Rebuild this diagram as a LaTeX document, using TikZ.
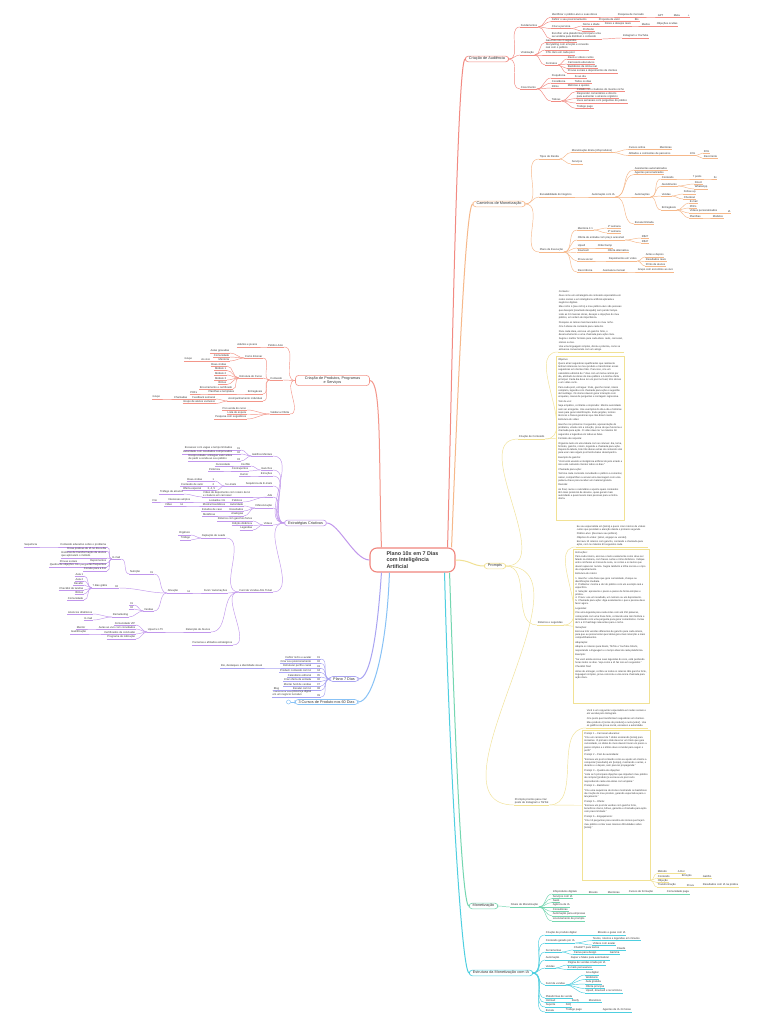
\documentclass[tikz,border=0pt]{standalone}
\usepackage{fontspec}
\setmainfont{Liberation Sans}
\usetikzlibrary{positioning}
\definecolor{hubC}{HTML}{F0857D}
\definecolor{redC}{HTML}{F28A82}
\definecolor{orgC}{HTML}{F6B88A}
\definecolor{ylwC}{HTML}{F1E194}
\definecolor{grnC}{HTML}{74D6B0}
\definecolor{cyaC}{HTML}{4ECFE0}
\definecolor{lorC}{HTML}{F3968A}
\definecolor{purC}{HTML}{C197EC}
\definecolor{lavC}{HTML}{A9A4F2}
\definecolor{bluC}{HTML}{88C2F6}
\definecolor{txtC}{HTML}{3A3A3A}
\newcommand\hubfont{\fontsize{5.4}{6.4}\selectfont\bfseries}
\newcommand\topfont{\fontsize{3.8}{4.4}\selectfont}
\newcommand\leaffont{\fontsize{2.7}{3.05}\selectfont}
\newcommand\notefont{\fontsize{2.5}{3.2}\selectfont}
\newcommand\pgap{\par\vspace{1.3pt}}

\begin{document}
\begin{tikzpicture}[x=1pt, y=-1pt,
    hub/.style={draw=hubC, line width=1.1pt, rounded corners=7pt, fill=white,
        font=\hubfont, text=txtC, align=left, minimum width=85pt,
        minimum height=24pt, inner xsep=6pt},
    topic/.style={draw=br, line width=0.6pt, rounded corners=3pt, fill=white,
        font=\topfont, text=txtC, align=center, inner xsep=3.5pt, inner ysep=1.1pt},
    leaf/.style={anchor=south west, font=\leaffont, text=txtC, align=left,
        inner xsep=0.6pt, inner ysep=0.45pt,
        append after command={(\tikzlastnode.south west) edge[draw=br, line width=0.45pt] (\tikzlastnode.south east)}},
    lleaf/.style={leaf, anchor=south east},
    notebox/.style={draw=br, line width=0.5pt, anchor=north west, fill=white,
        font=\notefont, text=txtC, inner sep=2pt},
    link/.style={draw=br, line width=0.45pt},
    branch/.style={line width=1pt},
]
    \fill[white] (0,0) rectangle (768,1024);
    \useasboundingbox (0,0) rectangle (768,1024);

    % Central topic
    \node[hub] (hub) at (412.5,560) {Plano 10x em 7 Dias\\com Inteligência\\Artificial};

    % ---------------- Criação de Audiência
    \begin{scope}
        \colorlet{br}{redC}
        \node[topic] (rA) at (487,59) {Criação de Audiência};
        \node[leaf] (rB1) at (520,27) {Fundamentos};
        \node[leaf] (rB2) at (520,55) {Viralização};
        \node[leaf] (rB3) at (520,89) {Crescimento};
        \node[leaf] (r11) at (551,17) {Identificar o público-alvo e suas dores};
        \node[leaf] (r111) at (617,17) {Pesquisa de mercado};
        \node[leaf] (r112) at (657,17) {GPT};
        \node[leaf] (r113) at (673,17) {Meta};
        \node[leaf] (r114) at (687,17) {+};
        \node[leaf] (r12) at (551,21.5) {Definir o seu posicionamento};
        \node[leaf] (r121) at (598,21.5) {Proposta de valor};
        \node[leaf] (r122) at (634,21.5) {Bio};
        \node[leaf] (r13) at (551,28.5) {Criar a persona};
        \node[leaf] (r131) at (582,26) {Nome e idade};
        \node[leaf] (r132) at (604,26) {Dores e desejos reais};
        \node[leaf] (r133) at (641,26) {Medos};
        \node[leaf] (r134) at (656,26) {Objeções ocultas};
        \node[leaf] (r135) at (582,31) {Profissão};
        \node[leaf] (r14) at (551,39) {Escolher uma plataforma principal e uma\\secundária para distribuir o conteúdo};
        \node[leaf] (r141) at (622,38) {Instagram e YouTube};
        \node[leaf] (r21) at (545,42.5) {Ganchos nos 3 segundos};
        \node[leaf] (r22) at (545,50) {Storytelling com emoção e conexão\\real com o público};
        \node[leaf] (r23) at (545,55) {CTA claro em cada post};
        \node[leaf] (r24) at (545,65) {Formatos};
        \node[leaf] (r241) at (567,59) {Reels e vídeos curtos};
        \node[leaf] (r242) at (567,64) {Carrosséis educativos};
        \node[leaf] (r243) at (567,68.5) {Bastidores da rotina real};
        \node[leaf] (r244) at (567,73) {Provas sociais e depoimentos de clientes};
        \node[leaf] (r31) at (551,78) {Frequência};
        \node[leaf] (r311) at (574,78) {3x ao dia};
        \node[leaf] (r32) at (551,83) {Constância};
        \node[leaf] (r321) at (574,83) {Todos os dias};
        \node[leaf] (r33) at (551,88) {Ritmo};
        \node[leaf] (r331) at (567,88) {Métricas e ajustes};
        \node[leaf] (r34) at (551,101) {Táticas};
        \node[leaf] (r341) at (576,91.5) {Collabs com criadores do mesmo nicho};
        \node[leaf] (r342) at (576,98.5) {Responder comentários e directs\\para aumentar o alcance orgânico};
        \node[leaf] (r343) at (576,103) {Lives semanais com perguntas do público};
        \node[leaf] (r344) at (576,108.5) {Tráfego pago};
        \foreach \b in {rB1,rB2,rB3}
            \draw[link] (rA.east) to[out=0,in=180] (\b.south west);
        \foreach \a/\b in {rB1/r11, rB1/r12, rB1/r13, rB1/r14, r11/r111, r111/r112,
                r112/r113, r113/r114, r12/r121, r121/r122, r13/r131, r131/r132,
                r132/r133, r133/r134, r13/r135, r14/r141, rB2/r21, rB2/r22, rB2/r23,
                rB2/r24, r24/r241, r24/r242, r24/r243, r24/r244, rB3/r31, rB3/r32,
                rB3/r33, rB3/r34, r31/r311, r32/r321, r33/r331, r34/r341, r34/r342,
                r34/r343, r34/r344}
            \draw[link] (\a.south east) to[out=0,in=180] (\b.south west);
        \draw[branch, draw=br] ([xshift=-8pt]hub.north east) .. controls +(4,-150) and +(-8,0) .. (rA.west);
    \end{scope}

    % ---------------- Caminhos de Monetização
    \begin{scope}
        \colorlet{br}{orgC}
        \node[topic] (oA) at (499,204) {Caminhos de Monetização};
        \node[leaf] (oB1) at (539,159) {Tipos de Renda};
        \node[leaf] (oB2) at (539,197) {Escalabilidade do Negócio};
        \node[leaf] (oB3) at (539,252) {Plano de Execução};
        \node[leaf] (o11) at (571,152.5) {Monetização direta (infoprodutos)};
        \node[leaf] (o111) at (628,149.5) {Cursos online};
        \node[leaf] (o112) at (659,149.5) {Mentorias};
        \node[leaf] (o113) at (628,155.5) {Afiliados e comissões de parceiros};
        \node[leaf] (o114) at (689,155.5) {10\%};
        \node[leaf] (o115) at (703,153) {30\%};
        \node[leaf] (o116) at (703,158.5) {Recorrente};
        \node[leaf] (o12) at (571,164) {Serviços};
        \node[leaf] (o21) at (591,197) {Automação com IA};
        \node[leaf] (o211) at (634,170) {Assistentes automatizados};
        \node[leaf] (o212) at (634,174.5) {Agentes personalizados};
        \node[leaf] (o213) at (634,197) {Automações};
        \node[leaf] (o214) at (634,224) {Escala ilimitada};
        \node[leaf] (o2131) at (661,179) {Conteúdo};
        \node[leaf] (o2132) at (692,179) {7 posts};
        \node[leaf] (o2133) at (713,179) {3x};
        \node[leaf] (o2134) at (661,186) {Atendimento};
        \node[leaf] (o2135) at (694,184) {Direct};
        \node[leaf] (o2136) at (694,189) {WhatsApp};
        \node[leaf] (o2137) at (661,196) {Vendas};
        \node[leaf] (o2138) at (683,194) {Follow-up};
        \node[leaf] (o2139) at (683,199) {Checkout};
        \node[leaf] (o2140) at (661,210) {Entregáveis};
        \node[leaf] (o2141) at (689,203) {E-mail};
        \node[leaf] (o2142) at (689,208) {PDFs};
        \node[leaf] (o2143) at (689,213) {Vídeos personalizados};
        \node[leaf] (o2144) at (727,213) {IA};
        \node[leaf] (o2145) at (689,218) {Planilhas};
        \node[leaf] (o2146) at (712,218) {Modelos};
        \node[leaf] (o31) at (577,230) {Mentoria 1:1};
        \node[leaf] (o311) at (607,228) {1ª semana};
        \node[leaf] (o312) at (607,233) {2ª semana};
        \node[leaf] (o32) at (577,240) {Oferta de entrada com preço acessível};
        \node[leaf] (o321) at (641,238) {R\$27};
        \node[leaf] (o322) at (641,243) {R\$47};
        \node[leaf] (o33) at (577,248) {Upsell};
        \node[leaf] (o331) at (597,248) {Order bump};
        \node[leaf] (o34) at (577,252.5) {Downsell};
        \node[leaf] (o341) at (607,252.5) {Oferta alternativa};
        \node[leaf] (o35) at (577,261) {Prova social};
        \node[leaf] (o351) at (608,261) {Depoimentos em vídeo};
        \node[leaf] (o3511) at (645,257) {Antes e depois};
        \node[leaf] (o3512) at (645,261.5) {Resultados reais};
        \node[leaf] (o3513) at (645,266) {Prints de alunos};
        \node[leaf] (o36) at (577,272) {Recorrência};
        \node[leaf] (o361) at (602,272) {Assinatura mensal};
        \node[leaf] (o362) at (637,272) {Grupo com encontros ao vivo};
        \foreach \b in {oB1,oB2,oB3}
            \draw[link] (oA.east) to[out=0,in=180] (\b.south west);
        \foreach \a/\b in {oB1/o11, oB1/o12, o11/o111, o11/o113, o111/o112, o113/o114,
                o114/o115, o114/o116, oB2/o21, o21/o211, o21/o212, o21/o213, o21/o214,
                o213/o2131, o213/o2134, o213/o2137, o213/o2140, o2131/o2132,
                o2132/o2133, o2134/o2135, o2134/o2136, o2137/o2138, o2137/o2139,
                o2140/o2141, o2140/o2142, o2140/o2143, o2140/o2145, o2143/o2144,
                o2145/o2146, oB3/o31, oB3/o32, oB3/o33, oB3/o34, oB3/o35, oB3/o36,
                o31/o311, o31/o312, o32/o321, o32/o322, o33/o331, o34/o341, o35/o351,
                o351/o3511, o351/o3512, o351/o3513, o36/o361, o361/o362}
            \draw[link] (\a.south east) to[out=0,in=180] (\b.south west);
        \draw[branch, draw=br] ([xshift=-4pt]hub.north east) .. controls +(4,-100) and +(-8,0) .. (oA.west);
    \end{scope}

    % ---------------- Prompts
    \begin{scope}
        \colorlet{br}{ylwC}
        \node[topic] (yA) at (495,566) {Prompts};
        \node[leaf] (yB1) at (518,439) {Criação de Conteúdo};
        \node[leaf] (yB2) at (537,625) {Roteiros e Legendas};
        \node[leaf] (yB3) at (514,805) {Prompts prontos para criar\\posts de Instagram e TikTok};
        \node[leaf, font=\notefont] (yN1) at (558,352) {\parbox[t]{64pt}{\raggedright
            Contexto:\pgap
            Atue como um estrategista de conteúdo especialista em redes sociais e em inteligência artificial aplicada a negócios digitais.\pgap
            Meu nicho é [seu nicho] e meu público-alvo são pessoas que desejam [resultado desejado] sem perder tempo.\pgap
            Liste as 10 maiores dores, desejos e objeções do meu público, em ordem de importância.\pgap
            Pesquise os temas mais buscados no meu nicho.\pgap
            Crie 5 ideias de conteúdo para cada dor.\pgap
            Para cada ideia, escreva um gancho forte, o desenvolvimento e uma chamada para ação clara.\pgap
            Sugira o melhor formato para cada ideia: reels, carrossel, stories ou live.\pgap
            Use uma linguagem simples, direta e próxima, como se estivesse conversando com um amigo.}};
        \node[notebox] (yN2) at (556,356) {\parbox[t][160pt][t]{64pt}{\raggedright
            Objetivo:\pgap
            Quero atrair seguidores qualificados que realmente tenham interesse no meu produto e transformar esses seguidores em clientes fiéis. Para isso, crie um calendário editorial de 7 dias com um tema central por dia, alinhado às dores do meu público e à minha oferta principal. Cada dia deve ter um post no feed, três stories e um vídeo curto.\pgap
            Para cada post, entregue: título, gancho inicial, roteiro completo, legenda com chamada para ação e sugestão de hashtags. Os stories devem gerar interação com enquetes, caixas de perguntas e contagem regressiva.\pgap
            Tom de voz:\pgap
            Seja empático, confiante e inspirador. Mostre autoridade sem ser arrogante. Use exemplos do dia a dia e histórias reais para gerar identificação. Evite jargões, termos técnicos e frases genéricas que não dizem nada.\pgap
            Estrutura do vídeo:\pgap
            Gancho nos primeiros 3 segundos, apresentação do problema, virada com a solução, prova de que funciona e chamada para ação. O vídeo deve ter no máximo 60 segundos e legendas em todas as falas.\pgap
            Formato de resposta:\pgap
            Organize tudo em uma tabela com as colunas: dia, tema, formato, gancho, roteiro, legenda e chamada para ação. Depois da tabela, liste três ideias extras de conteúdo viral para usar caso algum post tenha baixo desempenho.\pgap
            Exemplo de gancho:\pgap
            “Você está usando a inteligência artificial do jeito errado e isso está custando clientes todos os dias.”\pgap
            Chamada para ação:\pgap
            Termine cada conteúdo convidando o público a comentar, salvar, compartilhar ou enviar uma mensagem com uma palavra-chave para receber um material gratuito.\pgap
            Revisão:\pgap
            Ao final, revise o calendário e aponte quais conteúdos têm mais potencial de alcance, quais geram mais autoridade e quais levam mais pessoas para a minha oferta.}};
        \node[leaf, font=\notefont] (yN3) at (576,547) {\parbox[t]{70pt}{\raggedright
            Eu sou especialista em [tema] e quero criar roteiros de vídeos curtos que prendam a atenção desde o primeiro segundo.\pgap
            Público-alvo: [descreva seu público].\\
            Objetivo do vídeo: [atrair, engajar ou vender].\pgap
            Escreva 10 roteiros com gancho, conteúdo e chamada para ação, com no máximo 60 segundos cada.}};
        \node[notebox] (yN4) at (573,549) {\parbox[t][150pt][t]{72pt}{\raggedright
            Instruções:\pgap
            Para cada roteiro, escreva o texto exatamente como deve ser falado na câmera, com frases curtas e ritmo dinâmico. Indique entre colchetes as trocas de cena, os cortes e os textos que devem aparecer na tela. Sugira também a trilha sonora e o tipo de enquadramento.\pgap
            Estrutura do roteiro:\pgap
            1. Gancho: uma frase que gere curiosidade, choque ou identificação imediata.\\
            2. Problema: mostre a dor do público com um exemplo real e específico.\\
            3. Solução: apresente o passo a passo de forma simples e prática.\\
            4. Prova: use um resultado, um número ou um depoimento.\\
            5. Chamada para ação: diga exatamente o que a pessoa deve fazer agora.\pgap
            Legendas:\pgap
            Crie uma legenda para cada vídeo com até 150 palavras, começando com uma frase forte, contando uma mini história e terminando com uma pergunta para gerar comentários. Inclua de 5 a 10 hashtags relevantes para o nicho.\pgap
            Variações:\pgap
            Escreva três versões diferentes de gancho para cada roteiro, para que eu possa testar qual delas gera mais retenção e mais compartilhamentos.\pgap
            Adaptação:\pgap
            Adapte os roteiros para Reels, TikTok e YouTube Shorts, respeitando a linguagem e o tempo ideal de cada plataforma.\pgap
            Exemplo:\pgap
            “Se você ainda escreve suas legendas do zero, está perdendo horas todos os dias. Veja como a IA faz isso em segundos.”\pgap
            Checklist final:\pgap
            Antes de entregar, confira se todos os roteiros têm gancho forte, linguagem simples, prova concreta e uma única chamada para ação clara.}};
        \node[leaf, font=\notefont] (yN5) at (586,728) {\parbox[t]{60pt}{\raggedright
            Você é um copywriter especialista em redes sociais e em vendas pelo Instagram.\pgap
            Crie posts que transformem seguidores em clientes.\pgap
            Meu produto é [nome do produto] e custa [valor]. Use os gatilhos de prova social, escassez e autoridade.}};
        \node[notebox] (yN6) at (582,730) {\parbox[t][146pt][t]{64pt}{\raggedright
            Prompt 1 – Carrossel educativo:\pgap
            “Crie um carrossel de 7 slides ensinando [tema] para iniciantes. O primeiro slide deve ter um título que gere curiosidade, os slides do meio devem trazer um passo a passo simples e o último deve convidar para seguir o perfil.”\pgap
            Prompt 2 – Post de autoridade:\pgap
            “Escreva um post contando como eu ajudei um cliente a conquistar [resultado] em [tempo], mostrando o antes, o durante e o depois, sem parecer propaganda.”\pgap
            Prompt 3 – Quebra de objeções:\pgap
            “Liste as 5 principais objeções que impedem meu público de comprar [produto] e escreva um post curto respondendo cada uma delas com empatia.”\pgap
            Prompt 4 – Bastidores:\pgap
            “Crie uma sequência de stories mostrando os bastidores da criação do meu produto, gerando expectativa para o lançamento.”\pgap
            Prompt 5 – Oferta:\pgap
            “Escreva um post de vendas com gancho forte, benefícios claros, bônus, garantia e chamada para ação com prazo limitado.”\pgap
            Prompt 6 – Engajamento:\pgap
            “Crie 10 perguntas para caixinha de stories que façam meu público contar suas maiores dificuldades sobre [tema].”}};
        \node[leaf] (yf1) at (657,873.5) {Método};
        \node[leaf] (yf11) at (677,873.5) {A Dor};
        \node[leaf] (yf2) at (657,878) {Conteúdo};
        \node[leaf] (yf21) at (681,878) {Emoção};
        \node[leaf] (yf22) at (702,878) {Gatilho};
        \node[leaf] (yf3) at (657,882.5) {Objeção};
        \node[leaf] (yf4) at (657,887) {Transformação};
        \node[leaf] (yf41) at (686,887) {Prova};
        \node[leaf] (yf42) at (702,887) {Resultados com IA na prática};
        \foreach \b in {yB1,yB2,yB3}
            \draw[link] (yA.east) to[out=0,in=180] (\b.south west);
        \foreach \a/\b/\c in {yB1/yN1/yN2, yB2/yN3/yN4, yB3/yN5/yN6} {
            \draw[link] (\a.south east) to[out=0,in=180] (\b.south west);
            \draw[link] (\a.south east) to[out=0,in=180] (\c.west);
        }
        \foreach \b in {yf1,yf2,yf3,yf4}
            \draw[link] (yN6.south east) to[out=0,in=180] (\b.south west);
        \foreach \a/\b in {yf1/yf11, yf2/yf21, yf21/yf22, yf4/yf41, yf41/yf42}
            \draw[link] (\a.south east) to[out=0,in=180] (\b.south west);
        \draw[branch, draw=br] (hub.east) .. controls +(15,0) and +(-12,0) .. (yA.west);
    \end{scope}

    % ---------------- Monetização
    \begin{scope}
        \colorlet{br}{grnC}
        \node[topic] (gA) at (483.5,906) {Monetização};
        \node[leaf] (gB) at (510,907) {Níveis de Monetização};
        \node[leaf] (g1) at (552,894) {Infoprodutos digitais};
        \node[leaf] (g11) at (588,894) {Ebooks};
        \node[leaf] (g12) at (607,894) {Mentorias};
        \node[leaf] (g13) at (628,894) {Cursos de formação};
        \node[leaf] (g14) at (666,894) {Comunidade paga};
        \node[leaf] (g2) at (552,898.5) {Serviços com IA};
        \node[leaf] (g3) at (552,902.5) {SaaS};
        \node[leaf] (g4) at (552,907) {Agência de IA};
        \node[leaf] (g5) at (552,911.5) {Consultorias};
        \node[leaf] (g6) at (552,916) {Automação para empresas};
        \node[leaf] (g7) at (552,921) {Licenciamento de prompts};
        \draw[link] (gA.east) to[out=0,in=180] (gB.south west);
        \foreach \a/\b in {gB/g1, gB/g2, gB/g3, gB/g4, gB/g5, gB/g6, gB/g7,
                g1/g11, g11/g12, g12/g13, g13/g14}
            \draw[link] (\a.south east) to[out=0,in=180] (\b.south west);
        \draw[branch, draw=br] ([xshift=-6pt]hub.south east) .. controls +(4,120) and +(-8,0) .. (gA.west);
    \end{scope}

    % ---------------- Estrutura da Monetização com IA
    \begin{scope}
        \colorlet{br}{cyaC}
        \node[topic] (cA) at (501,973) {Estrutura da Monetização com IA};
        \node[leaf] (c1) at (545,935) {Criação de produto digital};
        \node[leaf] (c11) at (597,935) {Ebooks e guias com IA};
        \node[leaf] (c2) at (545,943) {Conteúdo gerado por IA};
        \node[leaf] (c21) at (592,940.5) {Textos, roteiros e legendas em minutos};
        \node[leaf] (c22) at (592,945) {Vídeos com avatar};
        \node[leaf] (c3) at (545,952) {Ferramentas};
        \node[leaf] (c31) at (573,950) {ChatGPT para textos};
        \node[leaf] (c311) at (616,950) {Claude};
        \node[leaf] (c32) at (573,954.5) {Canva para design};
        \node[leaf] (c321) at (609,954.5) {Gamma};
        \node[leaf] (c4) at (545,960) {Automação};
        \node[leaf] (c41) at (570,960) {Zapier e Make para automatizar};
        \node[leaf] (c5) at (545,968) {Vendas};
        \node[leaf] (c51) at (567,965) {Página de vendas criada por IA};
        \node[leaf] (c52) at (567,969.5) {E-mails persuasivos};
        \node[leaf] (c6) at (545,985) {Funil de vendas};
        \node[leaf] (c61) at (585,975) {Isca digital};
        \node[leaf] (c62) at (585,979.5) {Webinário};
        \node[leaf] (c63) at (585,984) {Aula gratuita};
        \node[leaf] (c64) at (585,988.5) {Oferta principal};
        \node[leaf] (c65) at (585,993) {Upsell, downsell e recorrência};
        \node[leaf] (c7) at (545,998) {Plataformas de venda};
        \node[leaf] (c8) at (545,1002.5) {Hotmart};
        \node[leaf] (c81) at (571,1002.5) {Kiwify};
        \node[leaf] (c82) at (588,1002.5) {Monetizze};
        \node[leaf] (c9) at (545,1007) {Suporte};
        \node[leaf] (c91) at (565,1007) {FAQ};
        \node[leaf] (c10) at (545,1012) {Escala};
        \node[leaf] (c101) at (565,1012) {Tráfego pago};
        \node[leaf] (c102) at (602,1012) {Agentes de IA 24 horas};
        \foreach \b in {c1,c2,c3,c4,c5,c6,c7,c8,c9,c10}
            \draw[link] (cA.east) to[out=0,in=180] (\b.south west);
        \foreach \a/\b in {c1/c11, c2/c21, c2/c22, c3/c31, c3/c32, c31/c311, c32/c321,
                c4/c41, c5/c51, c5/c52, c6/c61, c6/c62, c6/c63, c6/c64, c6/c65,
                c8/c81, c81/c82, c9/c91, c10/c101, c101/c102}
            \draw[link] (\a.south east) to[out=0,in=180] (\b.south west);
        \draw[branch, draw=br] ([xshift=-11pt]hub.south east) .. controls +(4,170) and +(-8,0) .. (cA.west);
    \end{scope}

    % ---------------- Criação de Produtos, Programas e Serviços
    \begin{scope}
        \colorlet{br}{lorC}
        \node[topic, minimum width=74pt] (lA) at (332.5,380.5) {Criação de Produtos, Programas\\e Serviços};
        \node[lleaf] (lB1) at (284,347) {Público-Alvo};
        \node[lleaf] (lB11) at (258,347) {Adultos e jovens};
        \node[lleaf] (lB2) at (283,380) {Conteúdo};
        \node[lleaf] (l21) at (263,358) {Como Ensinar};
        \node[lleaf] (l211) at (230,353) {Aulas gravadas};
        \node[lleaf] (l212) at (230,357) {Comunidade};
        \node[lleaf] (l213) at (230,361) {Mentoria};
        \node[lleaf] (l2131) at (211,361) {Ao vivo};
        \node[lleaf] (l2132) at (193,361) {Grupo};
        \node[lleaf] (l22) at (263,378) {Estrutura do Curso};
        \node[lleaf] (l221) at (227,366) {Boas-vindas};
        \node[lleaf] (l222) at (227,370.5) {Módulo 1};
        \node[lleaf] (l223) at (227,375) {Módulo 2};
        \node[lleaf] (l224) at (227,380) {Módulo 3};
        \node[lleaf] (l225) at (227,384.5) {Bônus};
        \node[lleaf] (l226) at (233,389) {Encerramento e certificado};
        \node[lleaf] (l23) at (263,394) {Entregáveis};
        \node[lleaf] (l231) at (235,394) {Planilhas e templates};
        \node[lleaf] (l2311) at (198,394) {PDFs};
        \node[lleaf] (l24) at (263,401) {Acompanhamento individual};
        \node[lleaf] (l241) at (216,399) {Feedback semanal};
        \node[lleaf] (l2411) at (188,399) {Chamadas};
        \node[lleaf] (l2412) at (161,399) {Grupo};
        \node[lleaf] (l242) at (216,403.5) {Grupo de alunos exclusivo};
        \node[lleaf] (lB3) at (290,414) {Validar a Oferta};
        \node[lleaf] (l31) at (247,410) {Pré-venda do curso};
        \node[lleaf] (l32) at (247,414.5) {Lista de espera};
        \node[lleaf] (l33) at (247,419) {Pesquisa com seguidores};
        \foreach \b in {lB1,lB2,lB3}
            \draw[link] (lA.west) to[out=180,in=0] (\b.south east);
        \foreach \a/\b in {lB1/lB11, lB2/l21, lB2/l22, lB2/l23, lB2/l24, l21/l211,
                l21/l212, l21/l213, l213/l2131, l2131/l2132, l22/l221, l22/l222,
                l22/l223, l22/l224, l22/l225, l22/l226, l23/l231, l231/l2311,
                l24/l241, l24/l242, l241/l2411, l2411/l2412, lB3/l31, lB3/l32, lB3/l33}
            \draw[link] (\a.south west) to[out=180,in=0] (\b.south east);
        \draw[branch, draw=br] ([xshift=12pt]hub.north west) .. controls +(-3,-90) and +(12,0) .. (lA.east);
    \end{scope}

    % ---------------- Estratégias Criativas
    \begin{scope}
        \colorlet{br}{purC}
        \node[topic] (pA) at (305.5,523) {Estratégias Criativas};
        \node[lleaf] (pB1) at (273,456) {Gatilhos Mentais};
        \node[lleaf] (p11) at (241,450) {01};
        \node[lleaf] (p111) at (233,450) {Escassez com vagas e tempo limitados};
        \node[lleaf] (p12) at (241,454) {02};
        \node[lleaf] (p121) at (233,454) {Autoridade com resultados comprovados};
        \node[lleaf] (p13) at (241,461) {03};
        \node[lleaf] (p131) at (233,461) {Reciprocidade: entregue valor antes\\de pedir a venda ao seu público};
        \node[lleaf] (pB2) at (273,470) {Ganchos};
        \node[lleaf] (p21) at (251,466) {Conflito};
        \node[lleaf] (p211) at (231,466) {Curiosidade};
        \node[lleaf] (p22) at (249,471) {Contrapontos};
        \node[lleaf] (p221) at (221,471) {Polêmica};
        \node[lleaf] (pB3) at (273,476) {Emoções};
        \node[lleaf] (p31) at (249,476) {Humor};
        \node[lleaf] (pB4) at (273,486) {Sequência de E-mails};
        \node[lleaf] (p41) at (237,486) {5 e-mails};
        \node[lleaf] (p411) at (215,481) {1};
        \node[lleaf] (p4111) at (203,481) {Boas-vindas};
        \node[lleaf] (p412) at (215,486) {2};
        \node[lleaf] (p4121) at (204,486) {Conteúdo de valor};
        \node[lleaf] (p413) at (216,490.5) {3, 4, 5};
        \node[lleaf] (p4131) at (202,490.5) {Oferta especial};
        \node[lleaf] (pB5) at (273,497) {Ads};
        \node[lleaf] (p51) at (251,497) {Vídeo de depoimento com roteiro de IA\\e criativos em carrossel};
        \node[lleaf] (p511) at (184,494) {Tráfego de alcance};
        \node[lleaf] (p52) at (243,502) {Públicos};
        \node[lleaf] (p521) at (226,502) {Lookalike 1\%};
        \node[lleaf] (p5211) at (191,502) {Interesses amplos};
        \node[lleaf] (p5212) at (158,502) {Frio};
        \node[lleaf] (pB6) at (273,508) {Diferenciação};
        \node[lleaf] (p61) at (244,506) {Autoridade};
        \node[lleaf] (p611) at (226,506) {Mostrar bastidores};
        \node[lleaf] (p6111) at (184,506) {IA};
        \node[lleaf] (p6112) at (173,506) {Vídeo};
        \node[lleaf] (p62) at (244,511) {Resultados};
        \node[lleaf] (p621) at (223,511) {Estudos de caso};
        \node[lleaf] (p63) at (244,516) {Analogias};
        \node[lleaf] (p631) at (216,516) {Metáforas};
        \node[lleaf] (pB7) at (273,525) {Vídeos};
        \node[lleaf] (p71) at (253,521) {Roteiros com ganchos fortes};
        \node[lleaf] (p72) at (253,525.5) {Edição dinâmica};
        \node[lleaf] (p73) at (253,530) {Legendas};
        \node[lleaf] (pB8) at (273,592) {Funil de Vendas Alto Ticket};
        \node[lleaf] (p81) at (226,538) {Captação de Leads};
        \node[lleaf] (p811) at (191,535) {Orgânico};
        \node[lleaf] (p812) at (191,540) {Tráfego};
        \node[lleaf] (p82) at (228,593) {Funil / Automações};
        \node[lleaf] (p821) at (191,593) {IA};
        \node[lleaf] (p822) at (179,593) {Ativação};
        \node[lleaf] (p8221) at (154,574) {01};
        \node[lleaf] (p8222) at (141,574) {Nutrição};
        \node[lleaf] (p8223) at (121,559) {E-mail};
        \node[lleaf] (q1) at (107,547) {Conteúdo educativo sobre o problema};
        \node[lleaf] (q1s) at (38,547) {Sequência};
        \node[lleaf] (q2) at (107,551) {Dicas práticas de IA no dia a dia};
        \node[lleaf] (q3) at (107,558) {Histórias de transformação de alunos\\que aplicaram o método};
        \node[lleaf] (q4) at (107,563) {Depoimentos};
        \node[lleaf] (q4p) at (78,563) {Provas sociais};
        \node[lleaf] (q5) at (107,567) {Quebra de objeções com perguntas frequentes};
        \node[lleaf] (q6) at (107,571) {Convite para a live};
        \node[lleaf] (p8224) at (119,588) {02};
        \node[lleaf] (p8225) at (108,588) {7 dias grátis};
        \node[lleaf] (q7) at (84,576) {Aula 1};
        \node[lleaf] (q8) at (84,581) {Aula 2};
        \node[lleaf] (q9) at (84,585) {Desafio};
        \node[lleaf] (q10) at (84,590) {Checklist de tarefas};
        \node[lleaf] (q11) at (84,594) {Bônus};
        \node[lleaf] (q12) at (84,600) {Comunidade};
        \node[lleaf] (p8226) at (154,611) {Vendas};
        \node[lleaf] (p8227) at (134,605) {01};
        \node[lleaf] (p8228) at (134,609) {02};
        \node[lleaf] (p8229) at (129,617) {Remarketing};
        \node[lleaf] (p82291) at (93,614) {Anúncios dinâmicos};
        \node[lleaf] (p82292) at (93,620) {E-mail};
        \node[lleaf] (p83) at (211,632) {Retenção de Alunos};
        \node[lleaf] (p831) at (164,632) {Upsell e LTV};
        \node[lleaf] (q13) at (136,625) {Comunidade VIP};
        \node[lleaf] (q14) at (136,629) {Aulas ao vivo com convidados};
        \node[lleaf] (q141) at (86,629) {Mentor};
        \node[lleaf] (q15) at (136,634) {Certificados de conclusão};
        \node[lleaf] (q151) at (87,634) {Gamificação};
        \node[lleaf] (q16) at (136,639) {Programa de indicação};
        \node[lleaf] (p84) at (233,645) {Parcerias e afiliados estratégicos};
        \foreach \b in {pB1,pB2,pB3,pB4,pB5,pB6,pB7,pB8}
            \draw[link] (pA.west) to[out=180,in=0] (\b.south east);
        \foreach \a/\b in {pB1/p11, pB1/p12, pB1/p13, p11/p111, p12/p121, p13/p131,
                pB2/p21, pB2/p22, p21/p211, p22/p221, pB3/p31, pB4/p41, p41/p411,
                p41/p412, p41/p413, p411/p4111, p412/p4121, p413/p4131, pB5/p51,
                pB5/p52, p51/p511, p52/p521, p521/p5211, p5211/p5212, pB6/p61,
                pB6/p62, pB6/p63, p61/p611, p611/p6111, p6111/p6112, p62/p621,
                p63/p631, pB7/p71, pB7/p72, pB7/p73, pB8/p81, pB8/p82, pB8/p83,
                pB8/p84, p81/p811, p81/p812, p82/p821, p821/p822, p822/p8221,
                p822/p8224, p822/p8226, p8221/p8222, p8222/p8223, p8223/q1,
                p8223/q2, p8223/q3, p8223/q4, p8223/q5, p8223/q6, q1/q1s, q4/q4p,
                p8224/p8225, p8225/q7, p8225/q8, p8225/q9, p8225/q10, p8225/q11,
                p8225/q12, p8226/p8227, p8226/p8228, p8226/p8229, p8229/p82291,
                p8229/p82292, p83/p831, p831/q13, p831/q14, p831/q15, p831/q16,
                q14/q141, q15/q151}
            \draw[link] (\a.south west) to[out=180,in=0] (\b.south east);
        \draw[branch, draw=br] (hub.west) .. controls +(-15,0) and +(12,0) .. (pA.east);
    \end{scope}

    % ---------------- Plano 7 Dias
    \begin{scope}
        \colorlet{br}{lavC}
        \node[topic] (bA) at (344,679) {Plano 7 Dias};
        \foreach \i/\y/\t in {1/659/{Definir nicho e avatar}, 2/663.5/{Criar seu posicionamento},
                3/668/{Estruturar perfil e canal}, 4/672.5/{Produzir conteúdo com IA},
                5/677/{Calendário editorial}, 6/681.5/{Criar oferta de entrada},
                7/686/{Montar funil de vendas}, 8/690.5/{Escalar com IA},
                9/697/{Transforme sua presença digital\\em um negócio lucrativo}} {
            \node[lleaf] (d\i) at (321,\y) {0\i};
            \node[lleaf] (b\i) at (312,\y) {\t};
            \draw[link] (bA.west) to[out=180,in=0] (d\i.south east);
            \draw[link] (d\i.south west) to[out=180,in=0] (b\i.south east);
        }
        \node[lleaf] (b31) at (263,668) {Bio, destaques e identidade visual};
        \node[lleaf] (b81) at (280,690.5) {Blog};
        \draw[link] (b3.south west) to[out=180,in=0] (b31.south east);
        \draw[link] (b8.south west) to[out=180,in=0] (b81.south east);
        \draw[branch, draw=br] ([xshift=12pt]hub.south west) .. controls +(-4,60) and +(12,0) .. (bA.east);
    \end{scope}

    % ---------------- Cursos de Produto
    \begin{scope}
        \colorlet{br}{bluC}
        \node[topic] (cB) at (326.5,702) {3 Cursos de Produto nos 60 Dias};
        \node[circle, draw=br, line width=0.5pt, minimum size=4pt, inner sep=0pt] (cBc) at (288.5,702) {};
        \draw[link] (cB.west) -- (cBc.east);
        \draw[branch, draw=br] ([xshift=20pt]hub.south west) .. controls +(-3,80) and +(14,0) .. (cB.east);
    \end{scope}
\end{tikzpicture}
\end{document}
